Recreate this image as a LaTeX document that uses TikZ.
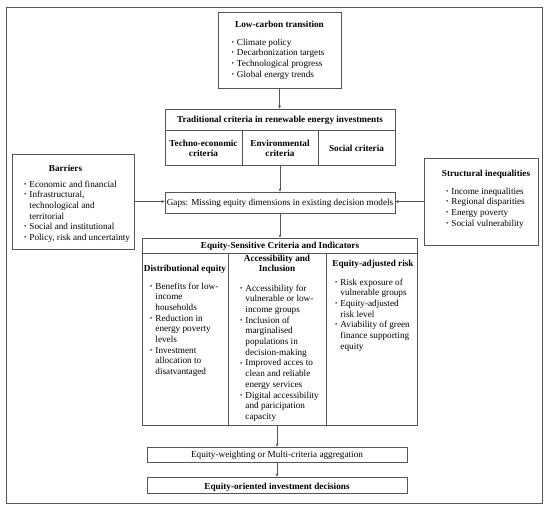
\documentclass[tikz,border=0pt]{standalone}
\usepackage{fontspec}
\setmainfont{Liberation Serif}
\usetikzlibrary{arrows.meta}
\definecolor{lc}{RGB}{85,85,85}
\newcommand{\fs}{\fontsize{9.2}{10.7}\selectfont}
\newcommand{\bl}{\raisebox{0.2ex}{\fontsize{6.5}{6.5}\selectfont\textbullet}}
\newenvironment{blist}{\fs\begin{tabular}[t]{@{}l@{\hspace{3pt}}l@{}}}{\end{tabular}}
\begin{document}
\begin{tikzpicture}[x=1pt,y=-1pt,
  box/.style={draw=lc, line width=0.7pt, inner sep=0pt},
  arr/.style={draw=lc, line width=0.7pt, -{Stealth[length=3.2pt,width=2.8pt]}},
  txt/.style={inner sep=0pt, anchor=base, font=\fs},
  lst/.style={inner sep=0pt, anchor=base west}]
\useasboundingbox (0,0) rectangle (550,509);
\draw[lc, line width=0.7pt] (6,7) rectangle (542,503);

% boxes
\node[box, minimum width=123pt, minimum height=76pt] (lct) at (279.5,50.5) {};
\node[box, minimum width=230pt, minimum height=56pt] (trad) at (280,137) {};
\node[box, minimum width=230pt, minimum height=21pt] (gaps) at (280,202.5) {};
\node[box, minimum width=122pt, minimum height=95pt] (bar) at (73,201.5) {};
\node[box, minimum width=114pt, minimum height=87pt] (str) at (481,201.5) {};
\node[box, minimum width=275pt, minimum height=187pt] (eq) at (279.5,331.5) {};
\node[box, minimum width=260pt, minimum height=15pt] (wgt) at (277,454.5) {};
\node[box, minimum width=260pt, minimum height=16pt] (fin) at (277,485) {};

% dividers
\draw[lc, line width=0.7pt] (165,130) -- (395,130);
\draw[lc, line width=0.7pt] (242,130) -- (242,165);
\draw[lc, line width=0.7pt] (318,130) -- (318,165);
\draw[lc, line width=0.7pt] (142,253) -- (417,253);
\draw[lc, line width=0.7pt] (228,253) -- (228,425);
\draw[lc, line width=0.7pt] (326,253) -- (326,425);

% texts: top box
\node[txt] (t1) at (279.5,27) {\textbf{Low-carbon transition}};
\node[lst] (l1) at (231.5,45) {\begin{blist}
\bl & Climate policy\\
\bl & Decarbonization targets\\
\bl & Technological progress\\
\bl & Global energy trends
\end{blist}};

% traditional
\node[txt] (t2) at (280,122) {\textbf{Traditional criteria in renewable energy investments}};
\node[txt] (c1) at (203.5,146) {\begin{tabular}[t]{@{}c@{}}\textbf{Techno-economic}\\\textbf{criteria}\end{tabular}};
\node[txt] (c2) at (280,146) {\begin{tabular}[t]{@{}c@{}}\textbf{Environmental}\\\textbf{criteria}\end{tabular}};
\node[txt] (c3) at (356.5,151) {\textbf{Social criteria}};

% gaps
\node[txt] (g1) at (280,205) {Gaps: Missing equity dimensions in existing decision models};

% barriers
\node[txt] (t3) at (65.5,171) {\textbf{Barriers}};
\node[lst] (l3) at (24,187) {\begin{blist}
\bl & Economic and financial\\
\bl & Infrastructural,\\
 & technological and\\
 & territorial\\
\bl & Social and institutional\\
\bl & Policy, risk and uncertainty
\end{blist}};

% structural
\node[txt] (t4) at (486,176) {\textbf{Structural inequalities}};
\node[lst] (l4) at (446,194) {\begin{blist}
\bl & Income inequalities\\
\bl & Regional disparities\\
\bl & Energy poverty\\
\bl & Social vulnerability
\end{blist}};

% equity
\node[txt] (t5) at (280,248) {\textbf{Equity-Sensitive Criteria and Indicators}};
\node[txt] (e1) at (185,271) {\textbf{Distributional equity}};
\node[lst] (l5) at (150,289) {\begin{blist}
\bl & Benefits for low-\\
 & income\\
 & households\\
\bl & Reduction in\\
 & energy poverty\\
 & levels\\
\bl & Investment\\
 & allocation to\\
 & disatvantaged
\end{blist}};
\node[txt] (e2) at (277,261) {\begin{tabular}[t]{@{}c@{}}\textbf{Accessibility and}\\\textbf{Inclusion}\end{tabular}};
\node[lst] (l6) at (240,291) {\begin{blist}
\bl & Accessibility for\\
 & vulnerable or low-\\
 & income groups\\
\bl & Inclusion of\\
 & marginalised\\
 & populations in\\
 & decision-making\\
\bl & Improved acces to\\
 & clean and reliable\\
 & energy services\\
\bl & Digital accessibility\\
 & and paricipation\\
 & capacity
\end{blist}};
\node[txt] (e3) at (373,266) {\textbf{Equity-adjusted risk}};
\node[lst] (l7) at (335,285) {\begin{blist}
\bl & Risk exposure of\\
 & vulnerable groups\\
\bl & Equity-adjusted\\
 & risk level\\
\bl & Aviability of green\\
 & finance supporting\\
 & equity
\end{blist}};

% bottom
\node[txt] (w1) at (277,457) {Equity-weighting or Multi-criteria aggregation};
\node[txt] (f1) at (277,489) {\textbf{Equity-oriented investment decisions}};

% connectors
\draw[arr] (lct.south) -- (lct.south |- trad.north);
\draw[arr] (trad.south) -- (gaps.north);
\draw[arr] (bar.east) -- (bar.east -| gaps.west);
\draw[arr] (str.west) -- (str.west -| gaps.east);
\draw[arr] (gaps.south) -- (gaps.south |- eq.north);
\draw[arr] (wgt.north |- eq.south) -- (wgt.north);
\draw[arr] (wgt.south) -- (fin.north);
\end{tikzpicture}
\end{document}
